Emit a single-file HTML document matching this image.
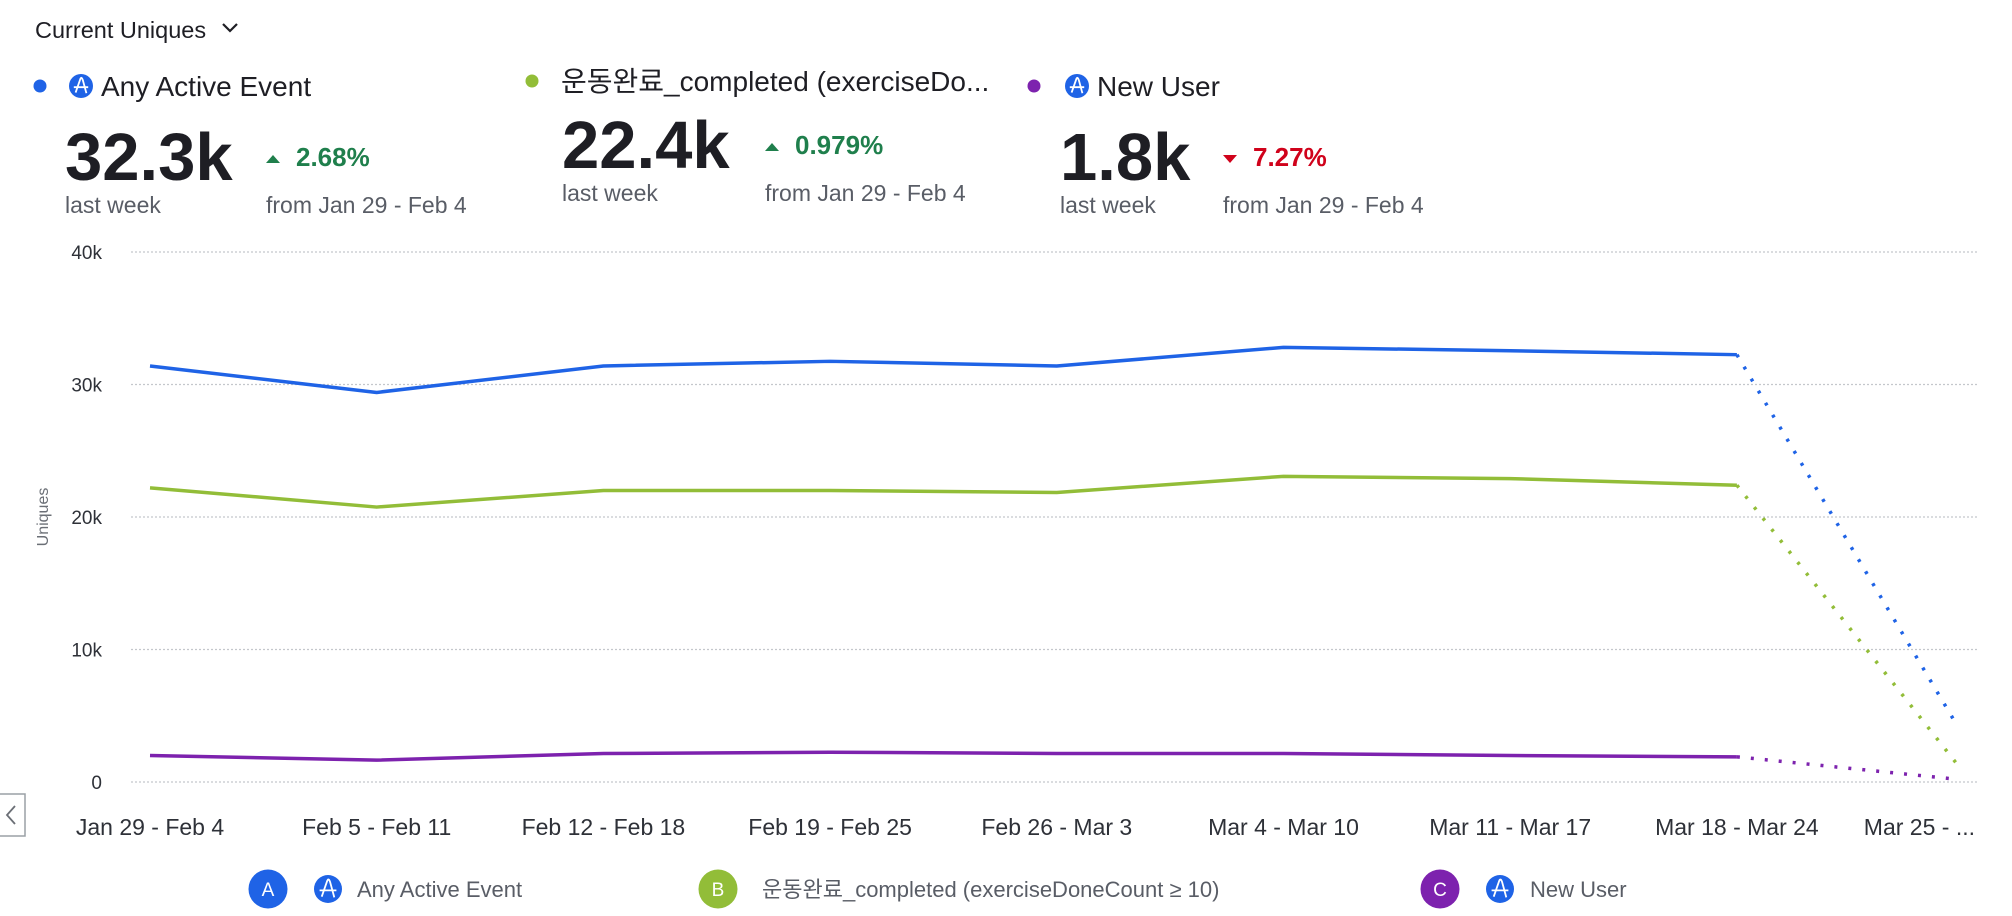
<!DOCTYPE html>
<html><head><meta charset="utf-8">
<style>
html,body{margin:0;padding:0;background:#fff;}
svg{display:block;font-family:"Liberation Sans","Noto Sans CJK KR",sans-serif;}
</style></head>
<body>
<svg id="chart" width="2012" height="916" viewBox="0 0 2012 916" xmlns="http://www.w3.org/2000/svg">
  <g>
    <text x="35" y="38" font-size="23.5" fill="#1e1e24">Current Uniques</text>
    <path d="M223 24 l7 7 l7 -7" fill="none" stroke="#1e1e24" stroke-width="2.2"/>
  </g>
  <g id="kpis"></g>
  <g id="grid"></g>
  <g id="yaxis"></g>
  <text x="48" y="517" font-size="16" fill="#6b6f76" text-anchor="middle" transform="rotate(-90 48 517)">Uniques</text>
  <g id="series"></g>
  <g id="xaxis"></g>
  <g>
    <rect x="-2" y="794" width="27" height="42" fill="#fff" stroke="#9aa0a6" stroke-width="1.5"/>
    <path d="M15 806 l-8 9 l8 9" fill="none" stroke="#6b6f76" stroke-width="1.8"/>
  </g>
  <g id="legend"></g>
</svg>
<script>
const categories = ["Jan 29 - Feb 4","Feb 5 - Feb 11","Feb 12 - Feb 18","Feb 19 - Feb 25","Feb 26 - Mar 3","Mar 4 - Mar 10","Mar 11 - Mar 17","Mar 18 - Mar 24","Mar 25 - ..."];
const seriesA = [31.4,29.4,31.4,31.75,31.4,32.8,32.55,32.25,4.2];
const seriesB = [22.2,20.75,22.0,22.0,21.85,23.07,22.9,22.4,1.3];
const seriesC = [2.0,1.65,2.15,2.25,2.15,2.15,2.0,1.9,0.2];
const yTicks = [0,10,20,30,40];
const yTickLabels = ["0","10k","20k","30k","40k"];
const seriesNames = ["Any Active Event","운동완료_completed (exerciseDoneCount ≥ 10)","New User"];
const seriesColors = ["#1f63e6","#92bd38","#7d22ae"];

const NS="http://www.w3.org/2000/svg";
function el(tag,attrs,parent,text){const e=document.createElementNS(NS,tag);for(const k in attrs)e.setAttribute(k,attrs[k]);if(text!==undefined)e.textContent=text;parent.appendChild(e);return e;}
const X0=150, XSTEP=226.7, Y0=782, YTOP=252, YMAX=40;
const xScale=i=>X0+i*XSTEP;
const yScale=v=>Y0-(v/YMAX)*(Y0-YTOP);

const grid=document.getElementById('grid'), yaxis=document.getElementById('yaxis');
yTicks.forEach((t,i)=>{
  const g=el('line',{x1:131,x2:1978,y1:yScale(t),y2:yScale(t),stroke:'#c4c7cc','stroke-width':1.3,'stroke-dasharray':'2 2'},grid);
  
  
  const l=el('text',{x:102,y:yScale(t)+7,'font-size':19,fill:'#2e3138','text-anchor':'end'},yaxis,yTickLabels[i]);
  
  
});

const xaxis=document.getElementById('xaxis');
categories.forEach((c,i)=>{
  let x=xScale(i); let anchor='middle';
  if(i===categories.length-1){x=1975;anchor='end';}
  const t=el('text',{x:x,y:835,'font-size':23,fill:'#2e3138','text-anchor':anchor},xaxis,c);
  
  
});

const sg=document.getElementById('series');
[seriesA,seriesB,seriesC].forEach((s,si)=>{
  const n=s.length;
  let d='';
  for(let i=0;i<n-1;i++) d+=(i?'L':'M')+xScale(i)+' '+yScale(s[i]);
  const p=el('path',{d:d,fill:'none',stroke:seriesColors[si],'stroke-width':3.5,'stroke-linejoin':'round'},sg);
  
  
  const q=el('path',{d:'M'+xScale(n-2)+' '+yScale(s[n-2])+'L'+(xScale(n-1)-6)+' '+yScale(s[n-1]),fill:'none',stroke:seriesColors[si],'stroke-width':3.5,'stroke-dasharray':'3 11','stroke-linecap':'butt'},sg);
  
  
});

function ampIcon(parent,cx,cy,r){
  el('circle',{cx:cx,cy:cy,r:r,fill:'#1f63e6'},parent);
  el('path',{d:`M${cx-r*0.6} ${cy+r*0.1} L${cx+r*0.6} ${cy+r*0.1} M${cx-r*0.45} ${cy+r*0.55} L${cx-r*0.05} ${cy-r*0.6} Q${cx+r*0.05} ${cy-r*0.8} ${cx+r*0.15} ${cy-r*0.5} L${cx+r*0.45} ${cy+r*0.6}`,fill:'none',stroke:'#fff','stroke-width':1.8},parent);
}

const kpis=document.getElementById('kpis');
const kpiData=[
 {dot:40,dy:86,nx:65,ny:180,lab:'Any Active Event',icon:true,lx:101,val:'32.3k',dx:266,delta:'2.68%',up:true},
 {dot:532,dy:81,nx:562,ny:168,lab:'운동완료_completed (exerciseDo...',icon:false,lx:561,val:'22.4k',dx:765,delta:'0.979%',up:true},
 {dot:1034,dy:86,nx:1060,ny:180,lab:'New User',icon:true,lx:1097,val:'1.8k',dx:1223,delta:'7.27%',up:false}
];
kpiData.forEach((k,i)=>{
  const g=el('g',{},kpis);
  
  
  el('circle',{cx:k.dot,cy:k.dy,r:6.5,fill:seriesColors[i]},g);
  if(k.icon) ampIcon(g,k.lx-20,k.dy,12);
  el('text',{x:k.lx,y:k.dy+10,'font-size':28,fill:'#1e1e24'},g,k.lab);
  el('text',{x:k.nx,y:k.ny,'font-size':67,'font-weight':'bold',fill:'#1e1e24'},g,k.val);
  const c=k.up?'#1f7f4c':'#d0021b';
  const ty=k.ny-23;
  if(k.up) el('path',{d:`M${k.dx} ${ty+6} l7 -8 l7 8z`,fill:c},g);
  else el('path',{d:`M${k.dx} ${ty-2} l7 8 l7 -8z`,fill:c},g);
  el('text',{x:k.dx+30,y:ty+9,'font-size':26,'font-weight':'bold',fill:c},g,k.delta);
  el('text',{x:k.nx,y:k.ny+33,'font-size':23,fill:'#595d66'},g,'last week');
  el('text',{x:k.dx,y:k.ny+33,'font-size':23,fill:'#595d66'},g,'from Jan 29 - Feb 4');
});

const legend=document.getElementById('legend');
const legPos=[{c:268,t:357,icon:328},{c:718,t:762,icon:null},{c:1440,t:1530,icon:1500}];
["A","B","C"].forEach((L,i)=>{
  const g=el('g',{},legend);
  
  
  el('circle',{cx:legPos[i].c,cy:889,r:19.5,fill:seriesColors[i]},g);
  el('text',{x:legPos[i].c,y:896,'font-size':19,fill:'#fff','text-anchor':'middle'},g,L);
  if(legPos[i].icon) ampIcon(g,legPos[i].icon,889,14);
  el('text',{x:legPos[i].t,y:897,'font-size':22,fill:'#595d66'},g,seriesNames[i]);
});
</script>
</body></html>
